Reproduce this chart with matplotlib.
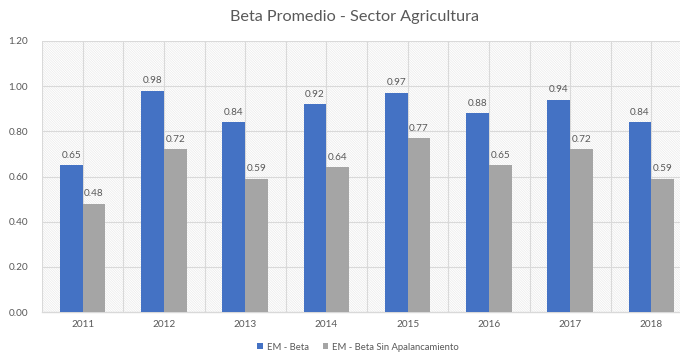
import matplotlib
matplotlib.use("Agg")
import matplotlib.pyplot as plt
import numpy as np
from matplotlib.patches import Rectangle

plt.rcParams['font.family'] = ['Lato', 'DejaVu Sans']
plt.rcParams['hatch.color'] = '#e6e6e6'
plt.rcParams['hatch.linewidth'] = 0.4

years = ['2011', '2012', '2013', '2014', '2015', '2016', '2017', '2018']
beta = [0.65, 0.98, 0.84, 0.92, 0.97, 0.88, 0.94, 0.84]
beta_unlevered = [0.48, 0.72, 0.59, 0.64, 0.77, 0.65, 0.72, 0.59]
series_names = ['EM - Beta', 'EM - Beta Sin Apalancamiento']
yticks = [0.0, 0.2, 0.4, 0.6, 0.8, 1.0, 1.2]

blue = '#4472C4'
gray = '#A5A5A5'
text_col = '#595959'
grid_col = '#d9d9d9'

W, H = 680, 354
fig = plt.figure(figsize=(W / 100, H / 100), dpi=100)
# plot area spans past the right border of the canvas
left, right, top, bottom = 42, 692, 41, 312
ax = fig.add_axes([left / W, 1 - bottom / H, (right - left) / W, (bottom - top) / H])

x = np.arange(len(years))
bw = 0.28
ax.set_xlim(-0.5, len(years) - 0.5)
ax.set_ylim(0, 1.2)

# finely hatched backdrop
ax.add_patch(Rectangle((0, 0), 1, 1, transform=ax.transAxes, facecolor='white',
                       edgecolor='#e6e6e6', hatch='\\' * 14, linewidth=0, zorder=0))

for yv in yticks[1:]:
    ax.axhline(yv, color=grid_col, lw=0.8, zorder=1)
for xv in np.arange(-0.5, len(years), 0.5):
    ax.axvline(xv, color=grid_col, lw=0.8, zorder=1)

b1 = ax.bar(x - bw / 2, beta, bw, color=blue, zorder=3, label=series_names[0])
b2 = ax.bar(x + bw / 2, beta_unlevered, bw, color=gray, zorder=3, label=series_names[1])

for bars, vals in ((b1, beta), (b2, beta_unlevered)):
    for r, v in zip(bars, vals):
        ax.annotate(f'{v:.2f}', (r.get_x() + r.get_width() / 2, v), xytext=(0, 4),
                    textcoords='offset points', ha='center', va='bottom',
                    fontsize=7.2, color=text_col, zorder=4)

ax.set_xticks(x)
ax.set_xticklabels(years)
ax.set_yticks(yticks)
ax.set_yticklabels([f'{v:.2f}' for v in yticks])
ax.tick_params(axis='both', length=0, labelsize=7.2, colors=text_col)
ax.tick_params(axis='x', pad=6)
ax.tick_params(axis='y', pad=10)
for s in ['top', 'right', 'left']:
    ax.spines[s].set_visible(False)
ax.spines['bottom'].set_color(grid_col)
ax.spines['bottom'].set_linewidth(1)
ax.spines['bottom'].set_zorder(2)

fig.text(354 / W, 1 - 17 / H, 'Beta Promedio - Sector Agricultura', ha='center', va='center',
         fontsize=11.7, color=text_col)

fig.legend(handles=[b1, b2], labels=series_names, loc='center', bbox_to_anchor=(358 / W, 1 - 347 / H),
           ncol=2, frameon=False, fontsize=6.8, labelcolor=text_col, handlelength=0.6,
           handleheight=0.6, handletextpad=0.4, columnspacing=1.5)

fig.savefig('out.png', dpi=100)
